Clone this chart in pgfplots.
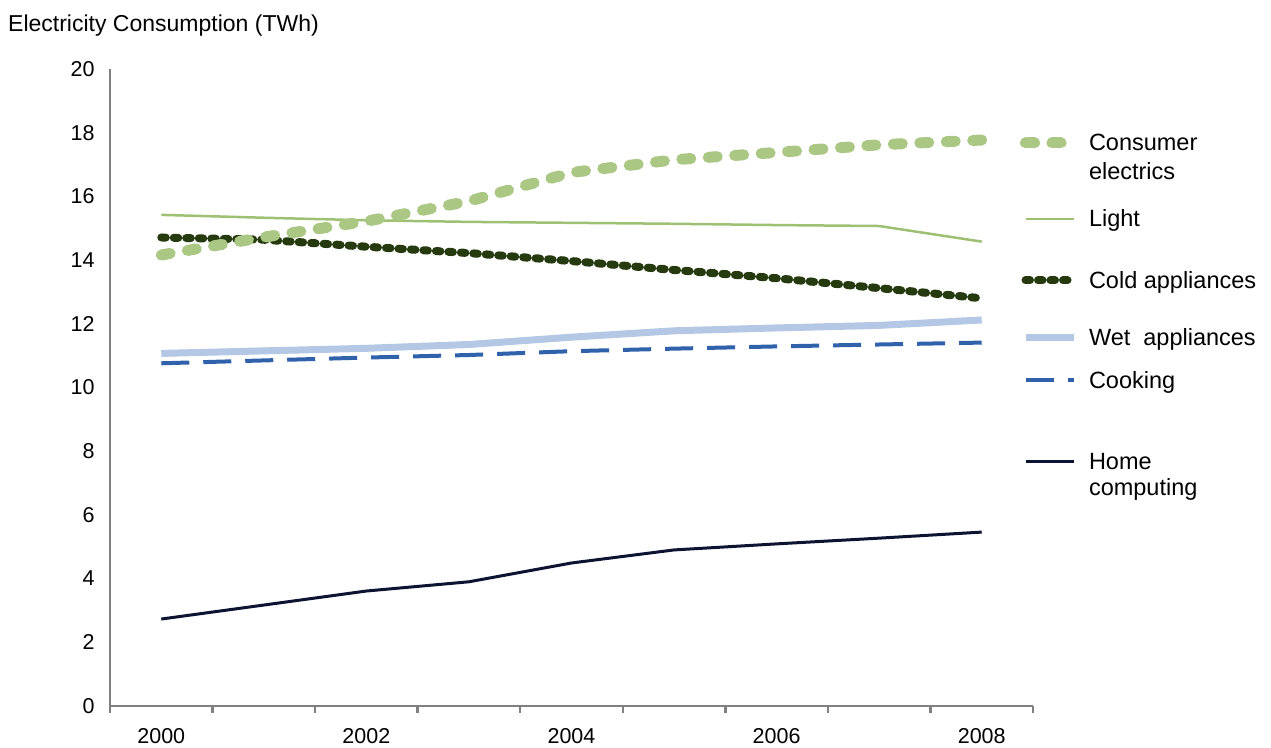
\documentclass[border=0pt]{standalone}
\usepackage{fontspec}
\setmainfont{Liberation Sans}
\usepackage{pgfplots}
\pgfplotsset{compat=1.18}
\definecolor{consumer}{RGB}{170,199,132}
\definecolor{lightc}{RGB}{158,192,115}
\definecolor{cold}{RGB}{38,58,16}
\definecolor{wet}{RGB}{180,200,230}
\definecolor{cooking}{RGB}{48,98,172}
\definecolor{home}{RGB}{12,20,50}
\definecolor{axisgray}{RGB}{128,128,128}
% legend row: #1 = row height, #2 = raise (half height - 8.5pt), #3 = text
\newcommand\lrow[3]{\rule{0pt}{#1}\raisebox{#2}{#3}}
\begin{document}
\begin{tikzpicture}
\useasboundingbox (0,0) rectangle (1271pt,747pt);
\begin{axis}[
  at={(110pt,41pt)}, anchor=south west,
  width=923pt, height=637pt, scale only axis,
  xmin=1999.5, xmax=2008.5, ymin=0, ymax=20,
  axis lines*=left,
  axis line style={draw=axisgray, line width=2.5pt},
  xtick={2000,2002,2004,2006,2008},
  minor xtick={1999.5,2000.5,...,2008.5},
  ytick={0,2,...,20},
  tick align=outside,
  major tick length=0pt,
  minor tick length=7pt,
  minor x tick style={draw=axisgray, line width=2.5pt},
  major tick style={draw=none},
  /pgf/number format/assume math mode=true,
  /pgf/number format/set thousands separator={},
  tick label style={font=\fontsize{21.5}{25}\selectfont},
  xticklabel style={yshift=-19pt},
  yticklabel style={xshift=-12pt},
  clip=false,
  legend image code/.code={\draw[#1] (0pt,0pt) -- (48pt,0pt);},
  legend cell align=left,
  reverse legend,
  legend style={at={(axis description cs:0.9857,0.9066)}, anchor=north west,
    draw=none, fill=none, inner sep=0pt, row sep=0pt, column sep=10pt,
    nodes={inner sep=0pt, outer sep=0pt}, font=\fontsize{23.5}{28}\selectfont},
]
\addlegendimage{empty legend}
\addlegendentry{\lrow{25pt}{4pt}{computing}}
\addplot[home, line width=3pt] coordinates {
(2000,2.73) (2001,3.17) (2002,3.61) (2003,3.90) (2004,4.49) (2005,4.90) (2006,5.09) (2007,5.27) (2008,5.46)};
\addlegendentry{\lrow{25pt}{4pt}{Home}}
\addlegendimage{empty legend}
\addlegendentry{\rule{0pt}{52pt}}
\addplot[cooking, line width=4pt, dash pattern=on 28pt off 14pt] coordinates {
(2000,10.76) (2001,10.85) (2002,10.94) (2003,11.02) (2004,11.14) (2005,11.22) (2006,11.29) (2007,11.35) (2008,11.41)};
\addlegendentry{\lrow{27pt}{5pt}{Cooking}}
\addplot[wet, line width=7pt] coordinates {
(2000,11.07) (2001,11.15) (2002,11.23) (2003,11.35) (2004,11.58) (2005,11.78) (2006,11.87) (2007,11.95) (2008,12.12)};
\addlegendentry{\lrow{56pt}{19.5pt}{Wet\ \ appliances}}
\addplot[cold, line width=8pt, line cap=round, dash pattern=on 4.5pt off 8pt] coordinates {
(2000,14.71) (2001,14.64) (2002,14.42) (2003,14.22) (2004,13.97) (2005,13.69) (2006,13.43) (2007,13.12) (2008,12.80)};
\addlegendentry{\lrow{55pt}{19pt}{Cold appliances}}
\addplot[lightc, line width=2.5pt] coordinates {
(2000,15.42) (2001,15.33) (2002,15.25) (2003,15.20) (2004,15.17) (2005,15.14) (2006,15.10) (2007,15.07) (2008,14.58)};
\addlegendentry{\lrow{65pt}{24pt}{Light}}
\addlegendimage{empty legend}
\addlegendentry{\lrow{27pt}{5pt}{electrics}}
\addplot[consumer, line width=11pt, line cap=round, dash pattern=on 9pt off 17.5pt] coordinates {
(2000,14.16) (2001,14.72) (2002,15.22) (2003,15.85) (2004,16.75) (2005,17.15) (2006,17.38) (2007,17.62) (2008,17.77)};
\addlegendentry{\lrow{27pt}{5pt}{Consumer}}
\end{axis}
\node[anchor=base west, inner sep=0pt, font=\fontsize{23}{27}\selectfont] at (8pt,715pt) {Electricity Consumption (TWh)};
\end{tikzpicture}
\end{document}
